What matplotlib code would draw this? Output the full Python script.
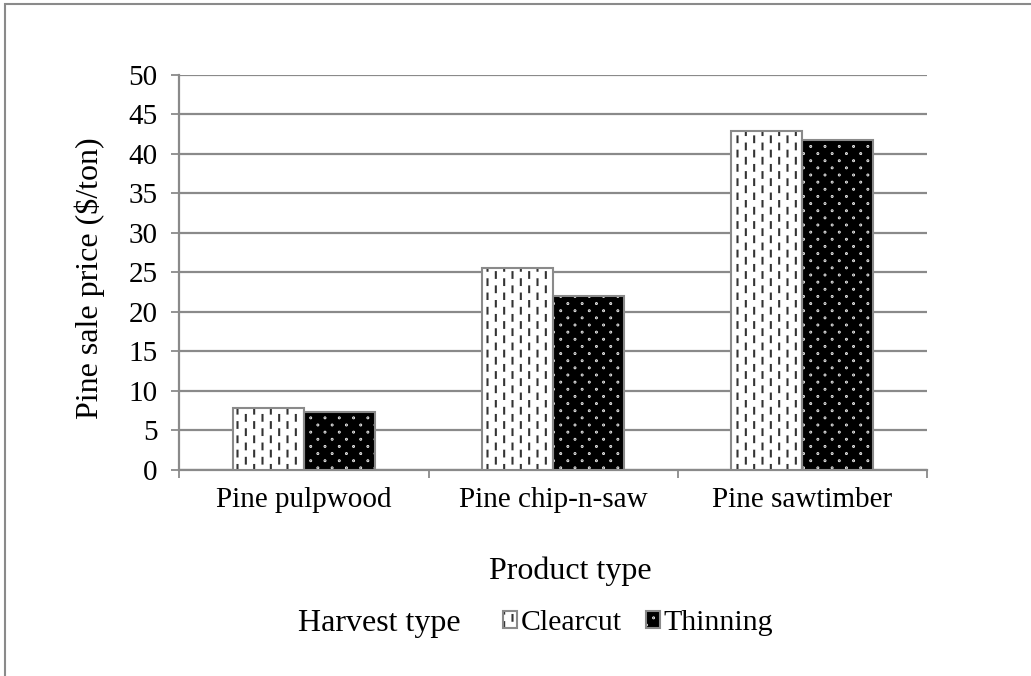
import numpy as np
import matplotlib
matplotlib.use("Agg")
import matplotlib.pyplot as plt
import matplotlib.hatch as mhatch
from matplotlib.path import Path
from matplotlib.patches import Rectangle

# data
products = ["Pine pulpwood", "Pine chip-n-saw", "Pine sawtimber"]
clearcut = [7.8, 25.6, 42.9]
thinning = [7.3, 22.0, 41.7]
series_labels = ["Clearcut", "Thinning"]
yticks = [0, 5, 10, 15, 20, 25, 30, 35, 40, 45, 50]


# staggered short vertical dashes ('|') and staggered small dots ('.')
class DashedVertical(mhatch.HatchPatternBase):
    ncols = 12
    nrows = 7
    dash = 0.40

    def __init__(self, hatch, density):
        self.on = hatch.count('|') > 0
        self.num_vertices = self.ncols * self.nrows * 2 if self.on else 0

    def set_vertices_and_codes(self, vertices, codes):
        k = 0
        for i in range(self.ncols):
            x = (i + 0.5) / self.ncols
            shift = 0.5 if i % 2 else 0.0
            for j in range(self.nrows):
                y0 = (j + shift) / self.nrows + 0.05 / self.nrows
                vertices[k] = (x, y0)
                vertices[k + 1] = (x, y0 + self.dash / self.nrows)
                codes[k] = Path.MOVETO
                codes[k + 1] = Path.LINETO
                k += 2


class StaggerDots(mhatch.HatchPatternBase):
    nrows = 14
    ncols = 7

    def __init__(self, hatch, density):
        self.on = hatch.count('.') > 0
        circ = Path.unit_circle()
        self.shape_vertices = circ.vertices * 0.004
        self.shape_codes = circ.codes
        n = len(self.shape_vertices)
        self.num_vertices = self.nrows * self.ncols * n if self.on else 0

    def set_vertices_and_codes(self, vertices, codes):
        n = len(self.shape_vertices)
        k = 0
        for j in range(self.nrows):
            y = (j + 0.5) / self.nrows
            shift = 0.5 if j % 2 else 0.0
            for i in range(self.ncols):
                x = (i + 0.25 + shift) / self.ncols
                vertices[k:k + n] = self.shape_vertices + (x, y)
                codes[k:k + n] = self.shape_codes
                k += n


mhatch._hatch_types = [h for h in mhatch._hatch_types
                       if h not in (mhatch.VerticalHatch, mhatch.SmallFilledCircles)]
mhatch._hatch_types += [DashedVertical, StaggerDots]

TICK_SIZE = 21
TITLE_SIZE = 23
LEGEND_SIZE = 21.5

plt.rcParams['font.family'] = ['Liberation Serif', 'DejaVu Serif']
plt.rcParams['font.size'] = TICK_SIZE
plt.rcParams['hatch.linewidth'] = 1.5

GRAY = '#8a8a8a'

fig = plt.figure(figsize=(10.31, 6.76), dpi=100)
ax = fig.add_axes([0.1741, 0.3047, 0.7250, 0.5849])

x = np.arange(len(products))
w = 0.285

c_fill = ax.bar(x - w / 2, clearcut, w, color='white', edgecolor='#333333',
                linewidth=0, hatch='|', zorder=3)
c_edge = ax.bar(x - w / 2, clearcut, w, fill=False, edgecolor=GRAY,
                linewidth=1.5, zorder=4)
t_fill = ax.bar(x + w / 2, thinning, w, color='black', edgecolor='white',
                linewidth=0, hatch='.', zorder=3)
t_edge = ax.bar(x + w / 2, thinning, w, fill=False, edgecolor=GRAY,
                linewidth=1.5, zorder=4)

ax.set_xlim(-0.5, 2.5)
ax.set_ylim(0, 50)
ax.set_yticks(yticks)
ax.yaxis.grid(True, color=GRAY, linewidth=1.6, zorder=0)
ax.set_axisbelow(True)

ax.set_xticks(x)
ax.set_xticklabels(products)
ax.set_xticks([-0.5, 0.5, 1.5, 2.5], minor=True)
ax.tick_params(axis='x', which='major', length=0, pad=12)
ax.tick_params(axis='x', which='minor', length=5.5, width=1.3, color=GRAY)
ax.tick_params(axis='y', length=5.8, width=1.3, color=GRAY, pad=10)

for side in ['top', 'right']:
    ax.spines[side].set_visible(False)
for side in ['left', 'bottom']:
    ax.spines[side].set_color(GRAY)
    ax.spines[side].set_linewidth(1.6)

W, H = 1031.0, 676.0
fig.text(90 / W, 1 - 278 / H, "Pine sale price ($/ton)", rotation=90,
         ha='center', va='center', fontsize=TITLE_SIZE)
fig.text(570 / W, 1 - 571 / H, "Product type", ha='center', va='center',
         fontsize=TITLE_SIZE)
fig.text(379 / W, 1 - 623 / H, "Harvest type", ha='center', va='center',
         fontsize=TITLE_SIZE)

fig.legend([(c_fill, c_edge), (t_fill, t_edge)], series_labels,
           loc='center left', bbox_to_anchor=(503 / W, 1 - 623 / H),
           ncol=2, frameon=False, borderpad=0, borderaxespad=0,
           fontsize=LEGEND_SIZE,
           handlelength=0.47, handleheight=0.47, handletextpad=0.13,
           columnspacing=0.8)

fig.add_artist(Rectangle((5 / W, -0.1), 1.2, 1 - 4 / H + 0.1, fill=False,
                         edgecolor=GRAY, linewidth=1.5,
                         transform=fig.transFigure, clip_on=False))

fig.savefig("out.png", dpi=100)
